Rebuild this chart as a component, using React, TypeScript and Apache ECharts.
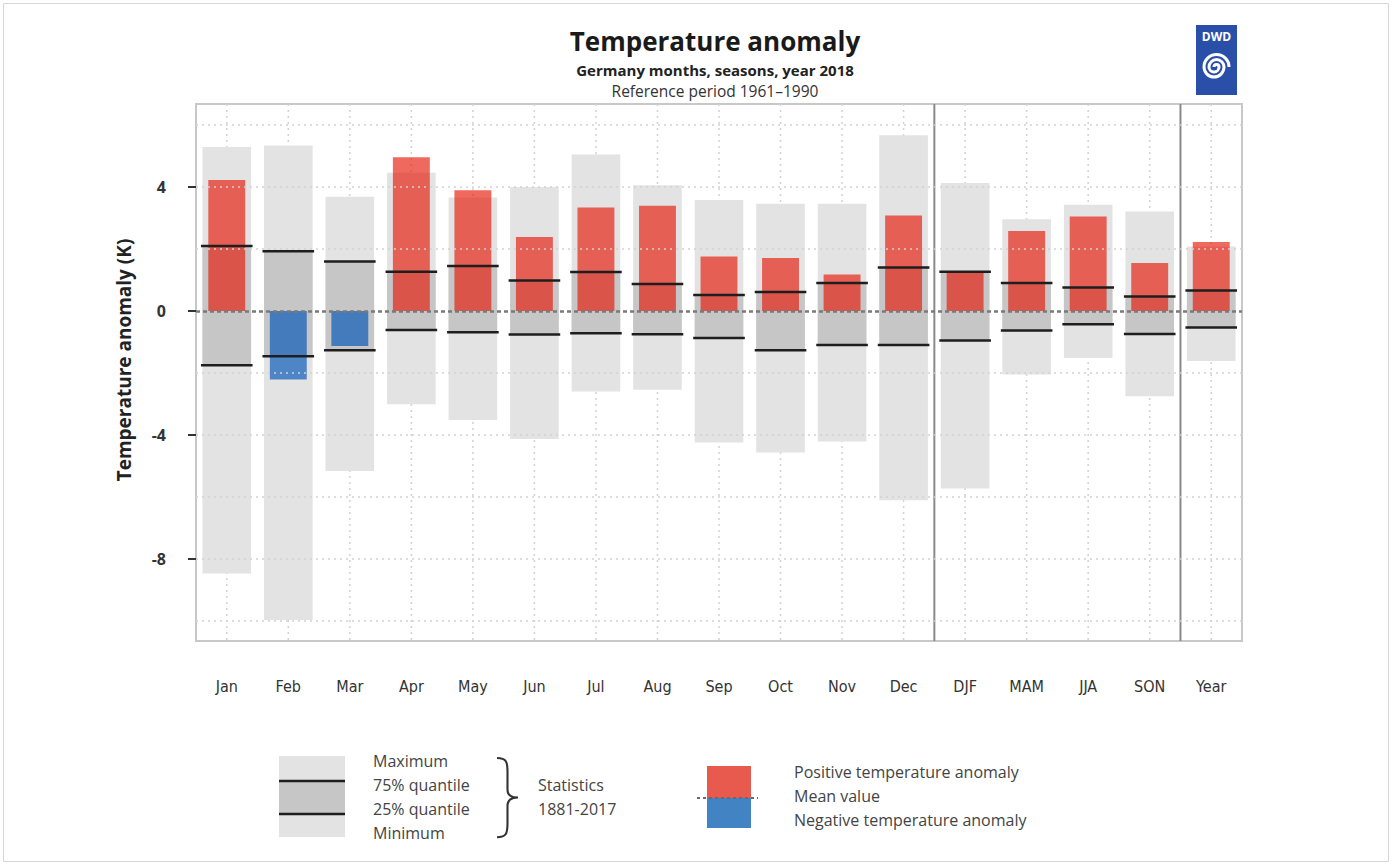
import React, { useEffect, useRef } from 'react';
import * as echarts from 'echarts';

const categories = ['Jan', 'Feb', 'Mar', 'Apr', 'May', 'Jun', 'Jul', 'Aug', 'Sep', 'Oct', 'Nov', 'Dec', 'DJF', 'MAM', 'JJA', 'SON', 'Year'];
const anomaly2018 = [4.23, -2.21, -1.13, 4.96, 3.90, 2.39, 3.34, 3.40, 1.76, 1.71, 1.18, 3.08, 1.27, 2.58, 3.05, 1.55, 2.23];
const statMax = [5.29, 5.34, 3.69, 4.46, 3.66, 4.00, 5.05, 4.06, 3.58, 3.46, 3.46, 5.67, 4.13, 2.96, 3.43, 3.21, 2.08];
const statQ75 = [2.10, 1.93, 1.60, 1.27, 1.45, 0.98, 1.26, 0.87, 0.52, 0.61, 0.90, 1.40, 1.27, 0.90, 0.76, 0.47, 0.66];
const statQ25 = [-1.75, -1.46, -1.27, -0.61, -0.69, -0.76, -0.72, -0.75, -0.87, -1.27, -1.10, -1.10, -0.95, -0.63, -0.43, -0.74, -0.53];
const statMin = [-8.47, -9.97, -5.16, -3.01, -3.52, -4.13, -2.60, -2.54, -4.24, -4.57, -4.21, -6.11, -5.73, -2.05, -1.52, -2.75, -1.61];
const yLabelValues = [-8, -4, 0, 4];
const gridValues = [6, 4, 2, -2, -4, -6, -8, -10];
const separatorAfter = [11, 15];
const legendStatTexts = ['Maximum', '75% quantile', '25% quantile', 'Minimum'];
const legendStatPeriod = ['Statistics', '1881-2017'];
const legendAnomalyTexts = ['Positive temperature anomaly', 'Mean value', 'Negative temperature anomaly'];

const FONT = "'Open Sans', 'Noto Sans', sans-serif";
const NARROW = "'Liberation Sans Narrow', 'DejaVu Sans Condensed', 'Open Sans', sans-serif";
const RED = 'rgba(230,20,5,0.64)';
const BLUE = 'rgba(0,84,184,0.66)';
const RED_LEG = '#e85a4e';
const BLUE_LEG = '#4283c4';
const LIGHT = '#e3e3e3';
const DARK = '#c6c6c6';

echarts.graphic.registerShape(
  'brace',
  echarts.graphic.extendPath('M0,0 C9,0 10,4 10,14 L10,32 C10,37 13,40 20,40 C13,40 10,43 10,48 L10,66 C10,76 9,80 0,80', {})
);
echarts.graphic.registerShape(
  'spiral',
  echarts.graphic.extendPath('M0,0 A2.5,2.5 0 0,1 5,0 A5,5 0 0,1 -5,0 A7.5,7.5 0 0,1 10,0 A10,10 0 0,1 -10,0 A12.5,12.5 0 0,1 15,0', {})
);

export default function App() {
  const ref = useRef<HTMLDivElement>(null);
  useEffect(() => {
    document.body.style.margin = '0';
    const chart = echarts.init(ref.current!, null, { renderer: 'svg' });
    const statData = categories.map((c, i) => [i, statMin[i], statQ25[i], statQ75[i], statMax[i]]);

    const option: any = {
      animation: false,
      backgroundColor: '#ffffff',
      grid: { left: 196, right: 150, top: 104, bottom: 224, show: true, borderColor: '#c8c8c8', borderWidth: 2, backgroundColor: 'transparent' },
      xAxis: {
        type: 'category',
        data: categories,
        boundaryGap: true,
        offset: 3,
        axisLine: { show: false },
        axisTick: { show: true, alignWithLabel: true, length: 12, lineStyle: { color: '#333', width: 2 } },
        axisLabel: { margin: 34, fontSize: 16, color: '#333', fontFamily: NARROW },
        splitLine: { show: false },
      },
      yAxis: {
        type: 'value',
        min: -10.65,
        max: 6.68,
        axisLine: { show: false },
        splitLine: { show: false },
        axisTick: { show: true, length: 8, customValues: yLabelValues, lineStyle: { color: '#333', width: 2 } },
        axisLabel: { customValues: yLabelValues, margin: 30, fontSize: 16, fontWeight: 'bold', color: '#333', fontFamily: FONT },
      },
      series: [
        {
          type: 'custom',
          name: 'grid',
          z: 1,
          silent: true,
          data: statData,
          encode: { x: 0, y: [1, 4] },
          renderItem: (params: any, api: any) => {
            const i = api.value(0);
            const cx = api.coord([i, 0])[0];
            const cs = params.coordSys;
            return {
              type: 'line',
              shape: { x1: cx, y1: cs.y, x2: cx, y2: cs.y + cs.height },
              style: { stroke: '#d2d2d2', lineWidth: 1.5, lineDash: [2, 4] },
            };
          },
          markLine: {
            silent: true,
            symbol: 'none',
            label: { show: false },
            lineStyle: { color: '#d2d2d2', width: 1.5, type: [2, 4] },
            data: gridValues.map((v) => ({ yAxis: v })),
          },
        },
        {
          type: 'custom',
          name: 'stats',
          z: 2,
          silent: true,
          data: statData,
          encode: { x: 0, y: [1, 2, 3, 4] },
          renderItem: (params: any, api: any) => {
            const i = api.value(0);
            const cx = api.coord([i, 0])[0];
            const bw = api.size([1, 0])[0] * 0.79;
            const pMin = api.coord([i, api.value(1)])[1];
            const p25 = api.coord([i, api.value(2)])[1];
            const p75 = api.coord([i, api.value(3)])[1];
            const pMax = api.coord([i, api.value(4)])[1];
            return {
              type: 'group',
              children: [
                { type: 'rect', shape: { x: cx - bw / 2, y: pMax, width: bw, height: pMin - pMax }, style: { fill: LIGHT } },
                { type: 'rect', shape: { x: cx - bw / 2, y: p75, width: bw, height: p25 - p75 }, style: { fill: DARK } },
              ],
            };
          },
        },
        {
          type: 'bar',
          name: 'anomaly',
          z: 3,
          silent: true,
          barWidth: '60%',
          data: anomaly2018.map((v) => ({ value: v, itemStyle: { color: v >= 0 ? RED : BLUE } })),
        },
        {
          type: 'custom',
          name: 'quantileLines',
          z: 4,
          silent: true,
          data: statData,
          encode: { x: 0, y: [2, 3] },
          renderItem: (params: any, api: any) => {
            const i = api.value(0);
            const cx = api.coord([i, 0])[0];
            const cw = api.size([1, 0])[0];
            const bw = cw * 0.79 + 3;
            const p25 = api.coord([i, api.value(2)])[1];
            const p75 = api.coord([i, api.value(3)])[1];
            const cs = params.coordSys;
            const children: any[] = [
              { type: 'line', shape: { x1: cx - bw / 2, y1: p75, x2: cx + bw / 2, y2: p75 }, style: { stroke: '#1e1e1e', lineWidth: 2.5 } },
              { type: 'line', shape: { x1: cx - bw / 2, y1: p25, x2: cx + bw / 2, y2: p25 }, style: { stroke: '#1e1e1e', lineWidth: 2.5 } },
            ];
            if (separatorAfter.indexOf(i) >= 0) {
              children.push({
                type: 'line',
                shape: { x1: cx + cw / 2, y1: cs.y, x2: cx + cw / 2, y2: cs.y + cs.height },
                style: { stroke: '#8a8a8a', lineWidth: 2 },
              });
            }
            return { type: 'group', children };
          },
        },
        {
          type: 'line',
          name: 'mean',
          z: 10,
          data: [],
          markLine: {
            silent: true,
            symbol: 'none',
            label: { show: false },
            lineStyle: { color: '#7a7a7a', width: 2.5, type: [4, 3] },
            data: [{ yAxis: 0 }],
          },
        },
      ],
      graphic: [
        { type: 'rect', shape: { x: 3.5, y: 3.5, width: 1385, height: 858 }, style: { fill: 'none', stroke: '#d6d6d6', lineWidth: 1 } },
        { type: 'text', x: 715, y: 41, style: { text: 'Temperature anomaly', textAlign: 'center', textVerticalAlign: 'middle', fontSize: 26, lineHeight: 26, fontWeight: 'bold', fontFamily: FONT, fill: '#1a1a1a' } },
        { type: 'text', x: 715, y: 69.5, style: { text: 'Germany months, seasons, year 2018', textAlign: 'center', textVerticalAlign: 'middle', fontSize: 15, lineHeight: 15, fontWeight: 'bold', fontFamily: FONT, fill: '#222' } },
        { type: 'text', x: 715, y: 91, style: { text: 'Reference period 1961\u20131990', textAlign: 'center', textVerticalAlign: 'middle', fontSize: 15.5, lineHeight: 15.5, fontFamily: FONT, fill: '#333' } },
        { type: 'text', x: 124, y: 360, rotation: Math.PI / 2, style: { text: 'Temperature anomaly (K)', textAlign: 'center', textVerticalAlign: 'middle', fontSize: 19, fontWeight: 'bold', fontFamily: FONT, fill: '#222' } },
        // DWD logo
        { type: 'rect', shape: { x: 1196, y: 25, width: 41, height: 70 }, style: { fill: '#2a4fa8' } },
        { type: 'text', x: 1216.5, y: 36, style: { text: 'DWD', textAlign: 'center', textVerticalAlign: 'middle', fontSize: 12, fontWeight: 'bold', fontFamily: FONT, fill: '#ffffff' } },
        { type: 'spiral', x: 1214, y: 67, style: { fill: 'none', stroke: '#ffffff', lineWidth: 3 } },
        // statistics legend
        { type: 'rect', shape: { x: 279, y: 756, width: 66, height: 81 }, style: { fill: LIGHT } },
        { type: 'rect', shape: { x: 279, y: 781, width: 66, height: 33 }, style: { fill: DARK } },
        { type: 'line', shape: { x1: 279, y1: 781, x2: 345, y2: 781 }, style: { stroke: '#1e1e1e', lineWidth: 2.5 } },
        { type: 'line', shape: { x1: 279, y1: 814, x2: 345, y2: 814 }, style: { stroke: '#1e1e1e', lineWidth: 2.5 } },
        ...legendStatTexts.map((t, k) => ({
          type: 'text', x: 373, y: 761 + k * 24,
          style: { text: t, textAlign: 'left', textVerticalAlign: 'middle', fontSize: 16, lineHeight: 18, fontFamily: FONT, fill: '#444' },
        })),
        { type: 'brace', x: 497, y: 758, scaleX: 1.05, scaleY: 0.99, style: { fill: 'none', stroke: '#333', lineWidth: 2 } },
        ...legendStatPeriod.map((t, k) => ({
          type: 'text', x: 538, y: 785 + k * 24,
          style: { text: t, textAlign: 'left', textVerticalAlign: 'middle', fontSize: 16, lineHeight: 18, fontFamily: FONT, fill: '#444' },
        })),
        // anomaly legend
        { type: 'rect', shape: { x: 707, y: 766, width: 44, height: 32 }, style: { fill: RED_LEG } },
        { type: 'rect', shape: { x: 707, y: 798, width: 44, height: 30 }, style: { fill: BLUE_LEG } },
        { type: 'line', shape: { x1: 697, y1: 798, x2: 758, y2: 798 }, style: { stroke: '#6a6a6a', lineWidth: 2, lineDash: [3, 3] } },
        ...legendAnomalyTexts.map((t, k) => ({
          type: 'text', x: 794, y: 772 + k * 24,
          style: { text: t, textAlign: 'left', textVerticalAlign: 'middle', fontSize: 16, lineHeight: 18, fontFamily: FONT, fill: '#444' },
        })),
      ],
    };
    chart.setOption(option);
    return () => chart.dispose();
  }, []);
  return <div ref={ref} style={{ width: 1392, height: 865 }} />;
}
